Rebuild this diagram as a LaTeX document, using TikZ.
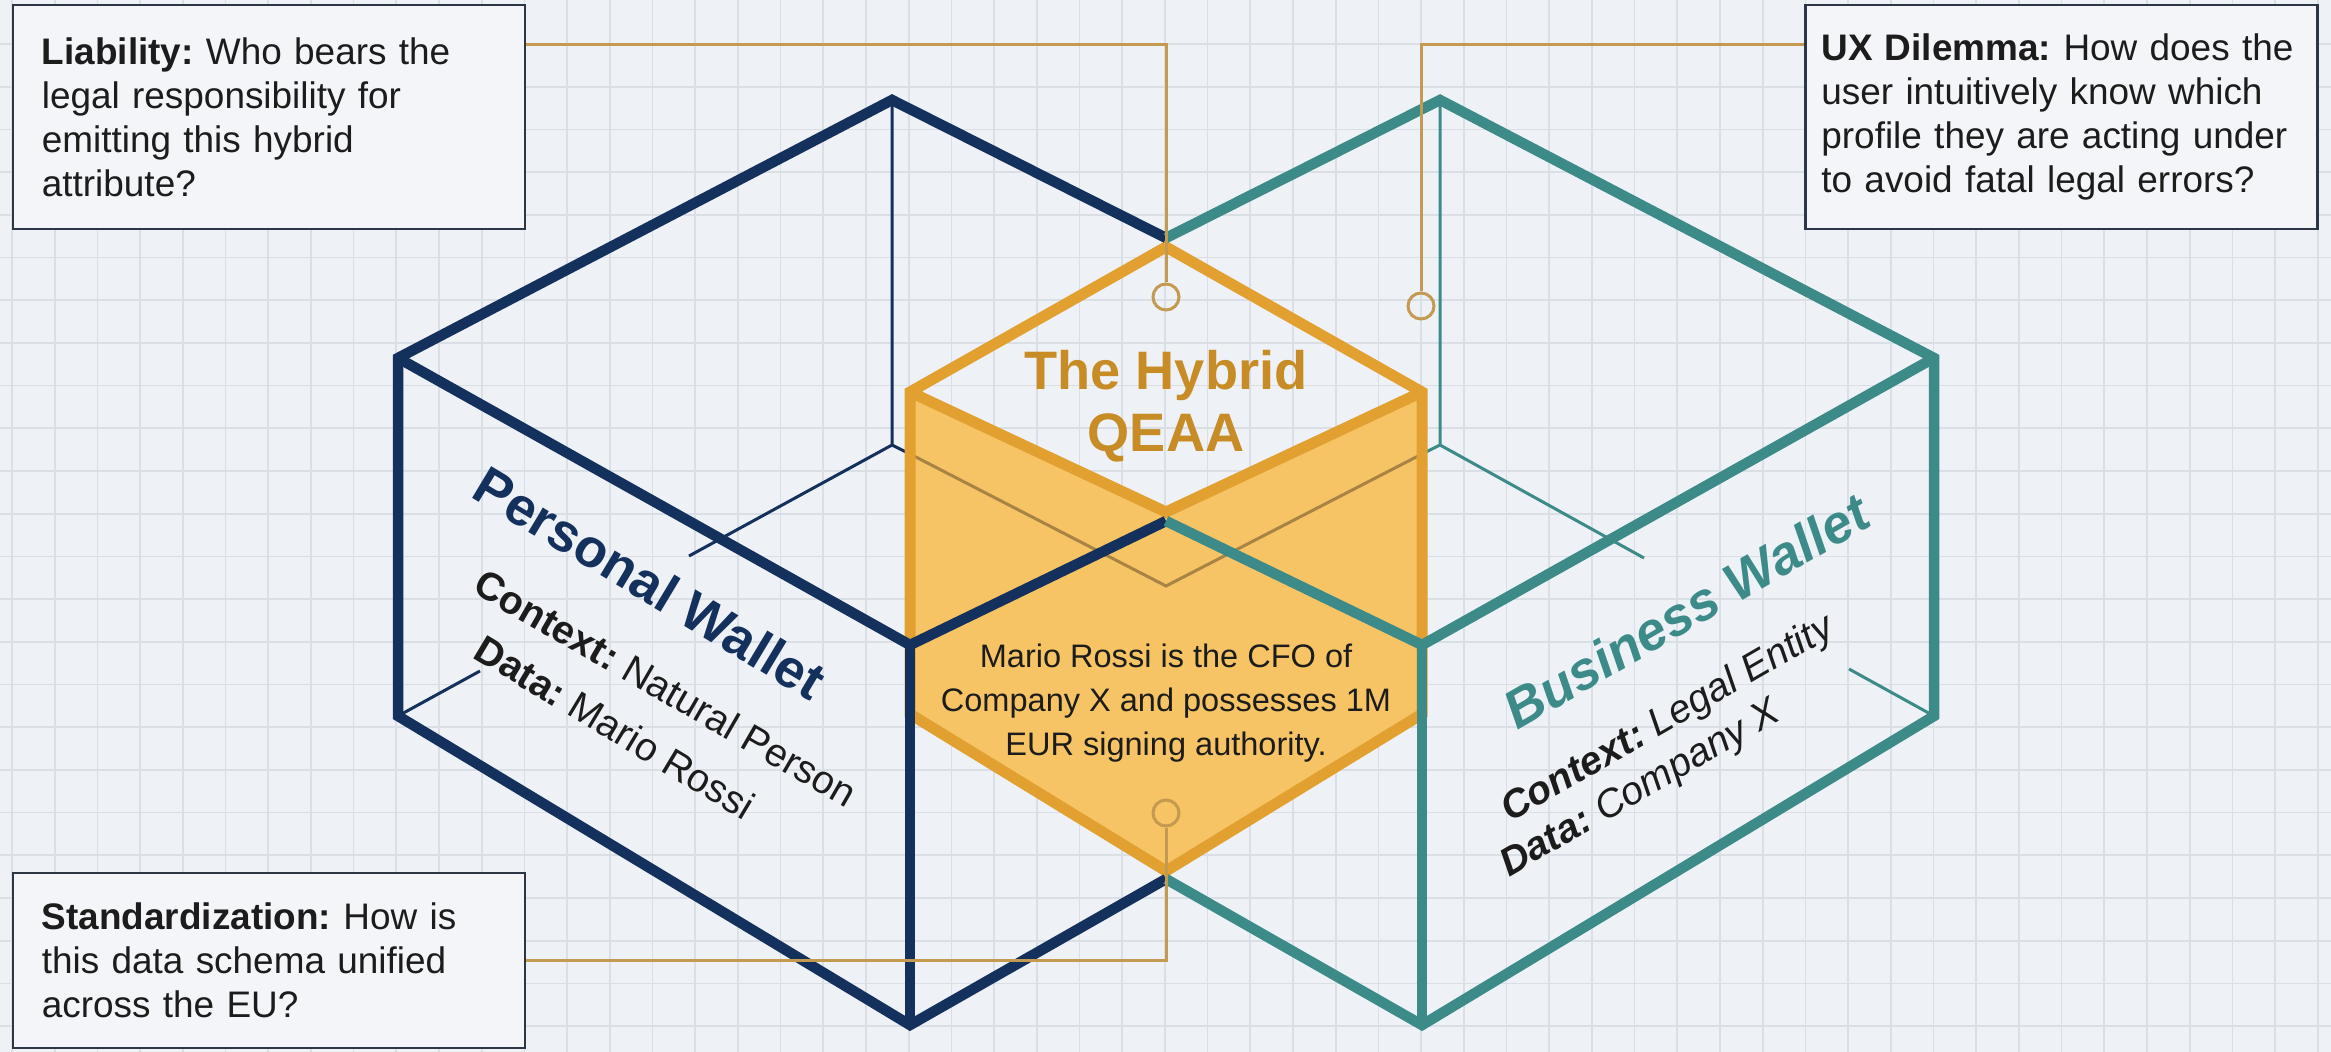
\documentclass[tikz,border=0pt]{standalone}
\usepackage{fontspec}
\setmainfont{Liberation Sans}
\frenchspacing
\definecolor{navy}{HTML}{14305C}
\definecolor{petrol}{HTML}{3C8B89}
\definecolor{amber}{HTML}{E2A030}
\definecolor{amberfill}{HTML}{F6C465}
\definecolor{amberdark}{HTML}{C78C25}
\definecolor{tan}{HTML}{C49A50}
\definecolor{paper}{HTML}{EEF2F6}
\definecolor{gridc}{HTML}{DADFE5}
\definecolor{boxfill}{HTML}{F3F5F8}
\definecolor{boxline}{HTML}{2C3644}
\definecolor{ink}{HTML}{1C1C1C}

\begin{document}
\begin{tikzpicture}[x=0.01cm,y=-0.01cm,
    wall/.style={line width=0.105cm},
    hidden/.style={line width=0.03cm},
    qbox/.style={draw=boxline,line width=0.025cm,fill=boxfill,text=ink,minimum width=5.12cm,
      minimum height=2.24cm,text width=4.54cm,align=left,inner xsep=0.16cm,
      font=\fontsize{10.5}{12.5}\selectfont},
    ring/.style={circle,draw=tan,line width=0.03cm,minimum size=0.26cm,inner sep=0pt},
    callout/.style={draw=tan,line width=0.03cm},
    wtitle/.style={font=\fontsize{15.3}{18}\selectfont\bfseries},
    wtext/.style={text=ink,font=\fontsize{11.2}{13}\selectfont},
    witext/.style={text=ink,font=\fontsize{11.2}{13}\selectfont\itshape}]
    \useasboundingbox (0,0) rectangle (2331,1052);
    \fill[paper] (0,0) rectangle (2331,1052);
    \foreach \i in {0,...,54}
      \draw[gridc,line width=0.017cm] ({12+42.7*\i},0) -- ({12+42.7*\i},1052);
    \foreach \j in {0,...,23}
      \draw[gridc,line width=0.017cm] (0,{44+42.7*\j}) -- (2331,{44+42.7*\j});

    \coordinate (T) at (892,100);
    \coordinate (UL) at (398,358);
    \coordinate (LL) at (398,716);
    \coordinate (B) at (910,1025);
    \coordinate (F) at (910,645);
    \coordinate (BK) at (892,445);
    \coordinate (T2) at (1440,100);
    \coordinate (UR) at (1934,358);
    \coordinate (LR) at (1934,716);
    \coordinate (B2) at (1422,1025);
    \coordinate (F2) at (1422,645);
    \coordinate (BK2) at (1440,445);
    \coordinate (JT) at (1166,238);
    \coordinate (JF) at (1166,521);
    \coordinate (JB) at (1166,879);
    \coordinate (GT) at (1166,247);
    \coordinate (GL) at (910,392);
    \coordinate (GR) at (1422,392);
    \coordinate (GF) at (1166,512);
    \coordinate (GLL) at (910,714);
    \coordinate (GLR) at (1422,714);
    \coordinate (GB) at (1166,871);

    \draw[hidden,navy] (T) -- (BK) -- (910,454);
    \draw[hidden,navy] (BK) -- (689,556);
    \draw[hidden,navy] (480,671) -- (LL);
    \draw[hidden,petrol] (T2) -- (BK2) -- (1422,454);
    \draw[hidden,petrol] (BK2) -- (1644,558);
    \draw[hidden,petrol] (1849,669) -- (LR);

    \fill[amberfill] (GL) -- (GF) -- (GR) -- (GLR) -- (GB) -- (GLL) -- cycle;
    \draw[hidden,tan!85!black] (910,454) -- (1166,586) -- (1422,454);
    \draw[amber,line width=0.11cm] (GL) -- (GT) -- (GR) -- (GLR) -- (GB) -- (GLL) -- cycle
      (GL) -- (GF) -- (GR);

    \draw[wall,navy] (JT) -- (T) -- (UL) -- (LL) -- (B) -- (JB);
    \draw[wall,navy] (UL) -- (F) -- (JF);
    \draw[wall,navy] (F) -- (B);
    \draw[wall,petrol] (JT) -- (T2) -- (UR) -- (LR) -- (B2) -- (JB);
    \draw[wall,petrol] (UR) -- (F2) -- (JF);
    \draw[wall,petrol] (F2) -- (B2);

    \node[wtitle,text=navy,rotate=-31] (pw) at (650,583) {Personal Wallet};
    \node[wtext,rotate=-30] (pctx) at (666,688) {\textbf{Context:} Natural Person};
    \node[wtext,rotate=-31] (pdata) at (615,727) {\textbf{Data:} Mario Rossi};
    \node[wtitle,text=petrol,font=\fontsize{15.3}{18}\selectfont\bfseries\itshape,rotate=30] (bw) at (1686,611) {Business Wallet};
    \node[witext,rotate=30] (bctx) at (1668,720) {\textbf{Context:} Legal Entity};
    \node[witext,rotate=30] (bdata) at (1641,790) {\textbf{Data:} Company X};

    \node[text=amberdark,align=center,font=\fontsize{15.4}{17.6}\selectfont\bfseries] (hyb) at (1166,406) {The Hybrid\\QEAA};
    \node[text=ink,align=center,font=\fontsize{9.25}{12.6}\selectfont] (attr) at (1166,703)
      {Mario Rossi is the CFO of\\Company X and possesses 1M\\EUR signing authority.};

    \node[ring] (ringlia) at (1166,297) {};
    \node[ring] (ringux) at (1421,306) {};
    \node[ring] (ringstd) at (1166,813) {};

    \node[qbox] (lia) at (269,117) {\textbf{Liability:} Who bears the\\legal responsibility for\\emitting this hybrid\\attribute?};
    \node[qbox,text width=4.8cm] (ux) at (2061.5,117) {\textbf{UX Dilemma:} How does the\\user intuitively know which\\profile they are acting under\\to avoid fatal legal errors?};
    \node[qbox,minimum height=1.75cm] (std) at (269,960.5) {\textbf{Standardization:} How is\\this data schema unified\\across the EU?};

    \draw[callout] ([yshift=-0.41cm]lia.north east) -| (ringlia);
    \draw[callout] ([yshift=-0.41cm]ux.north west) -| (ringux);
    \draw[callout] (std.east) -| (ringstd);
\end{tikzpicture}
\end{document}
